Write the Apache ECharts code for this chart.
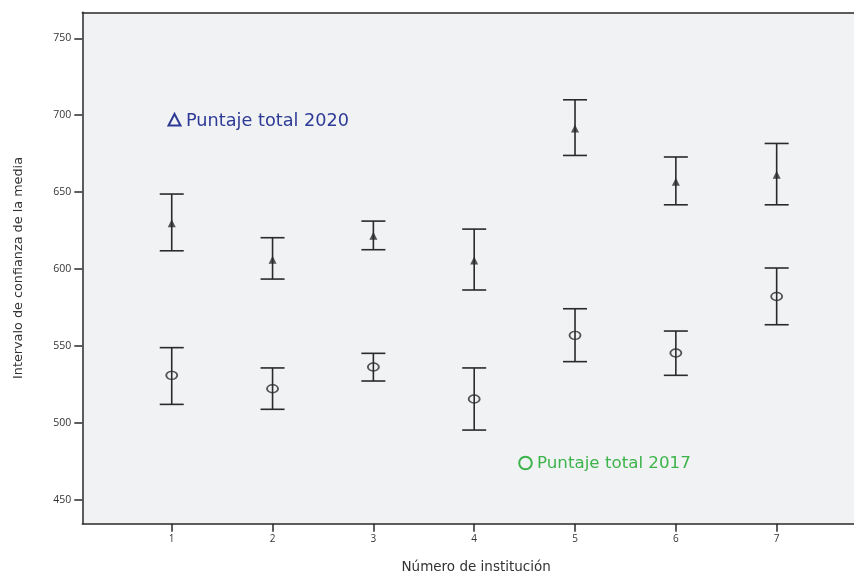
<!DOCTYPE html>
<html>
<head>
<meta charset="utf-8">
<script src="https://cdn.jsdelivr.net/npm/echarts@6/dist/echarts.min.js"></script>
<style>
  html, body { margin: 0; padding: 0; background: #ffffff; }
  #chart { width: 854px; height: 575px; }
</style>
</head>
<body>
<div id="chart"></div>
<script>
// Institution numbers on the x axis
const institutions = [1, 2, 3, 4, 5, 6, 7];

// Puntaje total 2020: mean and 95% confidence interval bounds
const mean2020  = [629.7, 606.0, 621.6, 605.5, 691.4, 656.7, 661.2];
const lower2020 = [611.8, 593.4, 612.5, 586.3, 673.8, 641.7, 641.7];
const upper2020 = [648.7, 620.3, 631.1, 625.9, 710.0, 672.8, 681.6];

// Puntaje total 2017: mean and 95% confidence interval bounds
const mean2017  = [530.8, 522.1, 536.2, 515.4, 556.8, 545.3, 582.1];
const lower2017 = [511.9, 508.7, 527.1, 495.2, 539.7, 530.8, 563.7];
const upper2017 = [548.8, 535.6, 545.1, 535.6, 574.1, 559.6, 600.6];

// Tick labels
const yTicks = [450, 500, 550, 600, 650, 700, 750];
const xTicks = [1, 2, 3, 4, 5, 6, 7];

const INK = '#2a2a2a';
const FONT = '"Open Sans", "Noto Sans", sans-serif';
const WIDE = '"DejaVu Sans", sans-serif';

function zip(xs, ...cols) {
  return xs.map((x, i) => [x, ...cols.map(c => c[i])]);
}

// Error bar: vertical whisker with horizontal caps
function renderErrorBar(params, api) {
  const x = api.value(0);
  const lo = api.coord([x, api.value(1)]);
  const hi = api.coord([x, api.value(2)]);
  const half = 12;
  const style = { stroke: INK, lineWidth: 1.6 };
  return {
    type: 'group',
    children: [
      { type: 'line', shape: { x1: lo[0], y1: lo[1], x2: hi[0], y2: hi[1] }, style },
      { type: 'line', shape: { x1: lo[0] - half, y1: lo[1], x2: lo[0] + half, y2: lo[1] }, style },
      { type: 'line', shape: { x1: hi[0] - half, y1: hi[1], x2: hi[0] + half, y2: hi[1] }, style }
    ]
  };
}

const chart = echarts.init(document.getElementById('chart'));

chart.setOption({
  animation: false,
  backgroundColor: '#ffffff',
  grid: {
    left: 82.3, right: 0, top: 12.3, bottom: 51.3,
    show: true, backgroundColor: '#f1f2f4', borderWidth: 0,
    outerBoundsMode: 'none'
  },
  xAxis: [{
    type: 'value',
    min: 0.113, max: 7.767,
    position: 'bottom',
    name: 'Número de institución',
    nameLocation: 'middle',
    nameGap: 37,
    nameTextStyle: { color: '#333', fontFamily: WIDE, fontSize: 13.5, padding: [0, 0, 0, 16] },
    splitLine: { show: false },
    axisLine: { show: true, lineStyle: { color: INK, width: 1.5 } },
    axisTick: { show: true, inside: false, length: 8, customValues: xTicks, lineStyle: { color: INK, width: 1.5 } },
    axisLabel: { customValues: xTicks, margin: 10, color: '#333', fontFamily: FONT, fontSize: 10 }
  }, {
    type: 'value',
    min: 0.113, max: 7.767,
    position: 'top',
    splitLine: { show: false },
    axisLine: { show: true, lineStyle: { color: INK, width: 1.5 } },
    axisTick: { show: false },
    axisLabel: { show: false }
  }],
  yAxis: {
    type: 'value',
    min: 434.3, max: 766.9,
    name: 'Intervalo de confianza de la media',
    nameLocation: 'middle',
    nameGap: 57,
    nameTextStyle: { color: '#333', fontFamily: WIDE, fontSize: 12.8 },
    splitLine: { show: false },
    axisLine: { show: true, lineStyle: { color: INK, width: 1.5 } },
    axisTick: { show: true, inside: false, length: 8, customValues: yTicks, lineStyle: { color: INK, width: 1.5 } },
    axisLabel: { customValues: yTicks, margin: 11, color: '#333', fontFamily: FONT, fontSize: 10.5 }
  },
  series: [
    {
      name: 'Puntaje total 2020 IC',
      type: 'custom',
      renderItem: renderErrorBar,
      data: zip(institutions, lower2020, upper2020),
      z: 2
    },
    {
      name: 'Puntaje total 2017 IC',
      type: 'custom',
      renderItem: renderErrorBar,
      data: zip(institutions, lower2017, upper2017),
      z: 2
    },
    {
      name: 'Puntaje total 2020',
      type: 'scatter',
      symbol: 'triangle',
      symbolSize: [8, 8],
      itemStyle: { color: INK },
      data: zip(institutions, mean2020),
      z: 3
    },
    {
      name: 'Puntaje total 2017',
      type: 'scatter',
      symbol: 'circle',
      symbolSize: [11, 8],
      itemStyle: { color: 'rgba(0,0,0,0)', borderColor: INK, borderWidth: 1.6 },
      data: zip(institutions, mean2017),
      z: 3
    }
  ],
  graphic: [
    {
      type: 'polygon',
      shape: { points: [[174.5, 114], [168.5, 125.5], [180.5, 125.5]] },
      style: { fill: 'none', stroke: '#2e3b96', lineWidth: 2 }
    },
    {
      type: 'text',
      left: 186, top: 112,
      style: {
        text: 'Puntaje total 2020',
        fill: '#2e3b96',
        font: '17.7px "DejaVu Sans"'
      }
    },
    {
      type: 'circle',
      shape: { cx: 525.5, cy: 463, r: 6.3 },
      style: { fill: 'none', stroke: '#3cb44b', lineWidth: 2 }
    },
    {
      type: 'text',
      left: 537, top: 455,
      style: {
        text: 'Puntaje total 2017',
        fill: '#3cb44b',
        font: '16.7px "DejaVu Sans"'
      }
    }
  ]
});
</script>
</body>
</html>
